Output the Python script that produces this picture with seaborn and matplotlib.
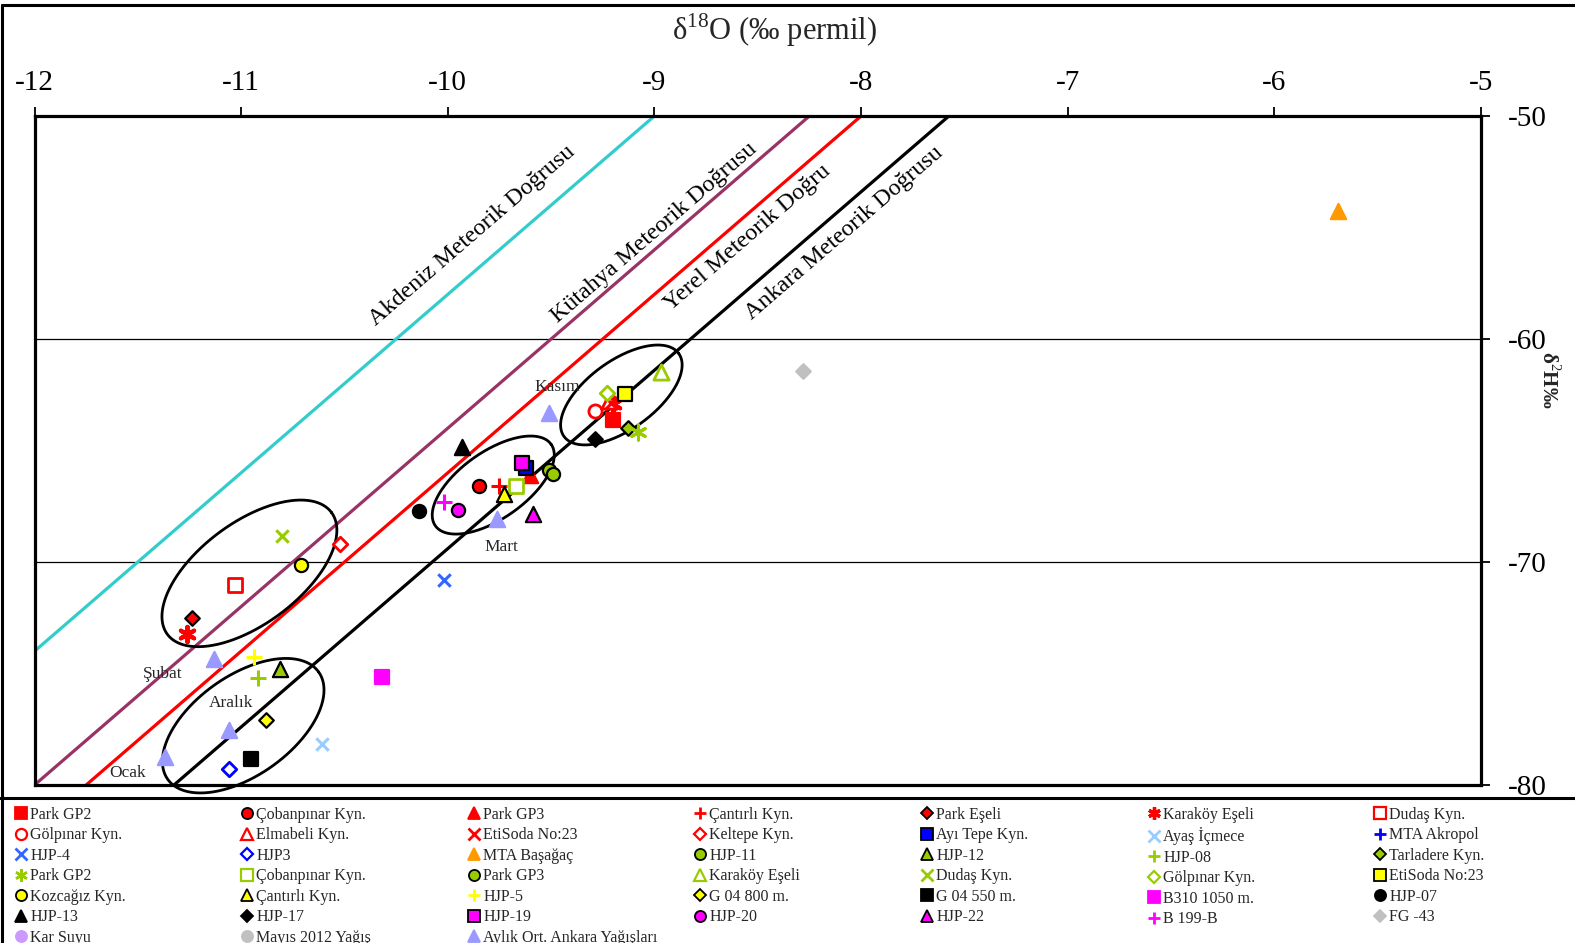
import numpy as np
import pandas as pd
import seaborn as sns
import matplotlib.pyplot as plt
from matplotlib.lines import Line2D

sns.set_theme(style="white")
plt.rcParams['font.family'] = ['Liberation Serif', 'DejaVu Serif']
plt.rcParams['mathtext.fontset'] = 'custom'
plt.rcParams['mathtext.rm'] = 'Liberation Serif'
plt.rcParams['axes.unicode_minus'] = False

# ---------------------------------------------------------------- data
legend_labels = [
    "Park GP2", "Çobanpınar Kyn.", "Park GP3", "Çantırlı Kyn.", "Park Eşeli", "Karaköy Eşeli", "Dudaş Kyn.",
    "Gölpınar Kyn.", "Elmabeli Kyn.", "EtiSoda No:23", "Keltepe Kyn.", "Ayı Tepe Kyn.", "Ayaş İçmece", "MTA Akropol",
    "HJP-4", "HJP3", "MTA Başağaç", "HJP-11", "HJP-12", "HJP-08", "Tarladere Kyn.",
    "Park GP2", "Çobanpınar Kyn.", "Park GP3", "Karaköy Eşeli", "Dudaş Kyn.", "Gölpınar Kyn.", "EtiSoda No:23",
    "Kozcağız Kyn.", "Çantırlı Kyn.", "HJP-5", "G 04 800 m.", "G 04 550 m.", "B310 1050 m.", "HJP-07",
    "HJP-13", "HJP-17", "HJP-19", "HJP-20", "HJP-22", "B 199-B", "FG -43",
    "Kar Suyu", "Mayıs 2012 Yağış", "Aylık Ort. Ankara Yağışları",
]

# sample index (into legend_labels), δ18O and δ2H of every measurement
point_series = [0, 1, 2, 3, 4, 5, 5, 6, 7, 8, 9, 10, 11, 12,
                14, 15, 16, 17, 18, 19, 20, 21, 22, 23, 24, 25, 26, 27,
                28, 29, 30, 31, 32, 33, 34, 35, 36, 37, 38, 39, 40, 41,
                44, 44, 44, 44, 44]
point_d18o = [-9.20, -9.85, -9.60, -9.75, -11.24, -11.26, -9.20, -11.03, -9.29, -9.22, -9.21, -10.52, -9.62, -10.61,
              -10.02, -11.06, -5.69, -9.51, -10.81, -10.92, -9.13, -9.08, -9.67, -9.49, -8.97, -10.80, -9.23, -9.14,
              -10.71, -9.73, -10.94, -10.88, -10.95, -10.32, -10.14, -9.93, -9.29, -9.64, -9.95, -9.59, -10.02, -8.28,
              -9.51, -9.76, -11.13, -11.06, -11.37]
point_d2h = [-63.63, -66.59, -66.10, -66.59, -72.52, -73.24, -62.90, -71.03, -63.23, -62.80, -62.88, -69.21, -65.77, -78.16,
             -70.79, -79.30, -54.26, -65.87, -74.81, -75.19, -64.00, -64.16, -66.59, -66.07, -61.47, -68.83, -62.43, -62.48,
             -70.13, -66.95, -74.25, -77.09, -78.85, -75.16, -67.71, -64.86, -64.48, -65.57, -67.67, -67.86, -67.32, -61.42,
             -63.33, -68.09, -74.36, -77.53, -78.73]

# meteoric water lines: δ2H = slope * δ18O + intercept
mwl_names = ["Akdeniz Meteorik Doğrusu", "Kütahya Meteorik Doğrusu", "Yerel Meteorik Doğru", "Ankara Meteorik Doğrusu"]
mwl_slope = [8.0, 8.0, 8.0, 8.0]
mwl_intercept = [22.0, 16.0, 14.0, 10.6]

x_ticks = [-12, -11, -10, -9, -8, -7, -6, -5]
y_ticks = [-80, -70, -60, -50]

# ---------------------------------------------------------------- styles
RED, YG, YEL, MAG = "#FF0000", "#99CC00", "#FFFF00", "#FF00FF"
BLU, LBLU, HBLU, ORG = "#0000FF", "#99CCFF", "#3366FF", "#FF9900"
SIL, BLK, WHT = "#C0C0C0", "#000000", "#FFFFFF"
AST = (6, 2, 0)

# marker, face, edge
styles = [
    ('s', RED, RED), ('o', RED, BLK), ('^', RED, RED), ('+', RED, RED), ('D', RED, BLK), (AST, RED, RED), ('s', WHT, RED),
    ('o', WHT, RED), ('^', WHT, RED), ('x', RED, RED), ('D', WHT, RED), ('s', BLU, BLK), ('x', LBLU, LBLU), ('+', BLU, BLU),
    ('x', HBLU, HBLU), ('D', WHT, BLU), ('^', ORG, ORG), ('o', YG, BLK), ('^', YG, BLK), ('+', YG, YG), ('D', YG, BLK),
    (AST, YG, YG), ('s', WHT, YG), ('o', YG, BLK), ('^', WHT, YG), ('x', YG, YG), ('D', WHT, YG), ('s', YEL, BLK),
    ('o', YEL, BLK), ('^', YEL, BLK), ('+', YEL, YEL), ('D', YEL, BLK), ('s', BLK, BLK), ('s', MAG, MAG), ('o', BLK, BLK),
    ('^', BLK, BLK), ('D', BLK, BLK), ('s', MAG, BLK), ('o', MAG, BLK), ('^', MAG, BLK), ('+', MAG, MAG), ('D', SIL, SIL),
    ('o', "#CC99FF", "#CC99FF"), ('o', SIL, SIL), ('^', "#9999FF", "#9999FF"),
]
marker_area = {'s': 95, 'o': 90, '^': 120, 'D': 55, '+': 120, 'x': 80}

W, H = 1575, 943
fig = plt.figure(figsize=(W / 100, H / 100), dpi=100)
ax_l, ax_r, ax_t, ax_b = 34.5, 1481, 116, 785
ax = fig.add_axes([ax_l / W, 1 - ax_b / H, (ax_r - ax_l) / W, (ax_b - ax_t) / H])
ax.set_xlim(-12, -5)
ax.set_ylim(-80, -50)
px_x = (ax_r - ax_l) / 7.0
px_y = (ax_b - ax_t) / 30.0

# horizontal reference lines
for yv in (-60, -70):
    ax.axhline(yv, color="black", lw=0.9, zorder=1)

# meteoric water lines and their labels
line_colors = ["#33CCCC", "#993366", "#FF0000", "#000000"]
label_pos = [(-9.88, -55.38), (-9.00, -55.25), (-8.55, -55.47), (-8.08, -55.25)]
xs = np.array([-12.0, -5.0])
angle = np.degrees(np.arctan(8.0 * px_y / px_x))
for name, m, b, c, (lx, ly) in zip(mwl_names, mwl_slope, mwl_intercept, line_colors, label_pos):
    sns.lineplot(x=xs, y=m * xs + b, ax=ax, color=c, lw=2.3, zorder=2)
    ax.text(lx, ly, name, rotation=angle, rotation_mode="anchor", ha="center", va="center",
            fontsize=17.3, color="black", zorder=3)

# seasonal groupings
ellipses = [(-9.16, -62.51, 70.8, 34.3, 35.9), (-9.78, -66.55, 70.8, 33.4, 35.1),
            (-10.96, -70.51, 102.2, 50.8, 36.6), (-10.99, -77.34, 92.6, 49.8, 35.4)]
t = np.linspace(0, 2 * np.pi, 300)
for cx, cy, a, bb, th in ellipses:
    thr = np.radians(th)
    dx = a * np.cos(t) * np.cos(thr) - bb * np.sin(t) * np.sin(thr)
    dy = a * np.cos(t) * np.sin(thr) + bb * np.sin(t) * np.cos(thr)
    ax.plot(cx + dx / px_x, cy + dy / px_y, color="black", lw=2.0, zorder=3, clip_on=False)

season_text = [("Kasım", -9.47, -62.14), ("Mart", -9.74, -69.31), ("Şubat", -11.38, -75.04),
               ("Aralık", -11.05, -76.31), ("Ocak", -11.55, -79.45)]
for txt, tx, ty in season_text:
    ax.text(tx, ty, txt, ha="center", va="center", fontsize=12.5, zorder=4)

# samples
pts = pd.DataFrame({"series": point_series, "d18O": point_d18o, "d2H": point_d2h})
for idx in range(len(legend_labels)):
    sub = pts[pts["series"] == idx]
    if sub.empty:
        continue
    mk, fc, ec = styles[idx]
    if mk == AST:
        lw = 3.0 if idx == 5 else 2.2
        sns.scatterplot(data=sub, x="d18O", y="d2H", ax=ax, marker=mk, s=120, color=fc,
                        linewidth=lw, legend=False, zorder=5)
    elif mk in ('+', 'x'):
        sns.scatterplot(data=sub, x="d18O", y="d2H", ax=ax, marker=mk, s=marker_area[mk], color=fc,
                        linewidth=2.2, legend=False, zorder=5)
    else:
        lw = 2.0 if fc == WHT else 1.6
        sns.scatterplot(data=sub, x="d18O", y="d2H", ax=ax, marker=mk, s=marker_area[mk], color=fc,
                        edgecolor=ec, linewidth=lw, legend=False, zorder=5)

# axes styling
ax.xaxis.tick_top()
ax.yaxis.tick_right()
ax.set_xticks(x_ticks)
ax.set_yticks(y_ticks)
ax.set_xticklabels([str(v) for v in x_ticks])
ax.set_yticklabels([str(v) for v in y_ticks])
ax.tick_params(axis="both", direction="out", length=6.5, width=1.3, labelsize=21, color="black",
               labelcolor="black")
ax.tick_params(axis="x", top=True, bottom=False, pad=8)
ax.tick_params(axis="y", right=True, left=False, pad=13)
for sp in ax.spines.values():
    sp.set_color("black")
    sp.set_linewidth(2.3)
ax.set_xlabel("")
ax.set_ylabel("")
ax.grid(False)

fig.text(775 / W, 1 - 30 / H, "δ$^{\\mathrm{18}}$O (‰ permil)", ha="center", va="center", fontsize=22)

# right-hand axis title
fig.text(1549 / W, 1 - 380 / H, "δ$^{\\mathrm{2}}$H‰", rotation=-90, ha="center", va="center",
         fontsize=15, fontweight="bold")

# chart frame and divider
frame_kw = dict(color="black", lw=2.2, transform=fig.transFigure)
fig.add_artist(Line2D([2 / W, 1], [1 - 5 / H, 1 - 5 / H], **frame_kw))
fig.add_artist(Line2D([2 / W, 2 / W], [0, 1 - 5 / H], **frame_kw))
fig.add_artist(Line2D([0, 1], [1 - 798 / H, 1 - 798 / H], **frame_kw))

# legend, laid out row by row in seven columns
def handle(idx):
    mk, fc, ec = styles[idx]
    if mk == AST:
        return Line2D([], [], ls="none", marker=mk, markersize=9, color=fc, markeredgewidth=2.4 if idx == 5 else 1.8)
    if mk in ('+', 'x'):
        return Line2D([], [], ls="none", marker=mk, markersize=8, color=fc, markeredgewidth=2.0)
    size = 6.5 if mk == 'D' else 8
    return Line2D([], [], ls="none", marker=mk, markersize=size, markerfacecolor=fc,
                  markeredgecolor=ec, markeredgewidth=1.6 if fc == WHT else 1.3)

col_left = [15, 241, 468, 694, 921, 1148, 1374]
for c, xl in enumerate(col_left):
    ids = list(range(c, len(legend_labels), 7))
    leg = fig.legend([handle(i) for i in ids], [legend_labels[i] for i in ids],
                     loc="upper left", bbox_to_anchor=(xl / W, 1 - 807 / H), frameon=False,
                     fontsize=11.5, handlelength=0.8, handletextpad=0.15, labelspacing=0.28,
                     borderpad=0, borderaxespad=0)

fig.savefig("out.png", dpi=100)
